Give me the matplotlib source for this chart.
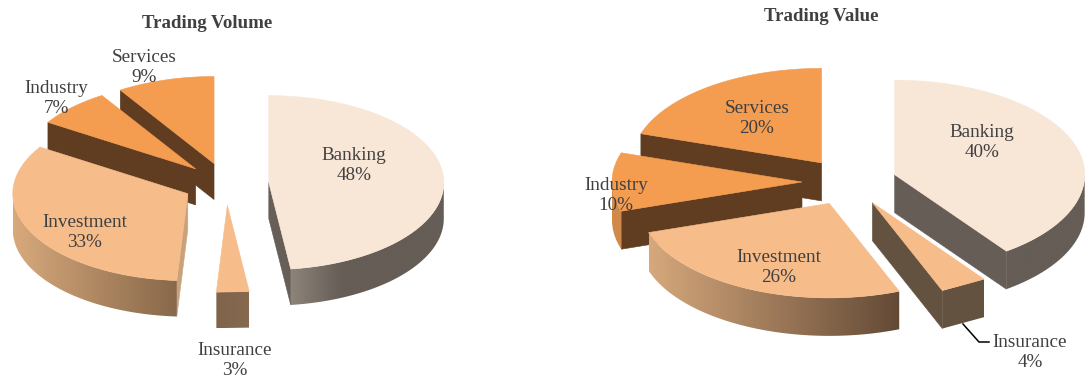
import numpy as np
import matplotlib
matplotlib.use("Agg")
import matplotlib.pyplot as plt
from matplotlib.colors import to_rgb
from matplotlib.patches import Polygon

# Segments run clockwise from twelve o'clock
categories = ["Banking", "Insurance", "Investment", "Industry", "Services"]
volume_share = [48, 3, 33, 7, 9]
value_share = [40, 4, 26, 10, 20]

TOP = {"Banking": "#F8E6D7", "Insurance": "#F6BC8A", "Investment": "#F6BC8A",
       "Industry": "#F49C50", "Services": "#F49C50"}
TEXT = "#404040"
SERIF = "Liberation Serif"

# Colours of the cut faces and evenly spaced colour stops along the rim
volume_style = {
    "cut": {"Banking": "#665E57", "Insurance": "#7F634A", "Investment": "#C9A27C",
            "Industry": "#603D20", "Services": "#603D20"},
    "rim": {"Banking": ("#8C8379", "#655D56", "#655D56", "#655D56"),
            "Insurance": ("#7F634A", "#866A50"),
            "Investment": ("#D8A97C", "#876849"), "Industry": ("#D08A4A", "#D08A4A"),
            "Services": ("#D08A4A", "#D08A4A")},
}
value_style = {
    "cut": {"Banking": "#655D56", "Insurance": "#645240", "Investment": "#8F6E50",
            "Industry": "#603D20", "Services": "#603D20"},
    "rim": {"Banking": ("#655D56", "#655D56"), "Insurance": ("#645240", "#645240"),
            "Investment": ("#D6A87C", "#634A36"), "Industry": ("#D08A4A", "#D08A4A"),
            "Services": ("#D08A4A", "#D08A4A")},
}

# Label centres in pixel coordinates
volume_labels = {"Banking": (354, 165.5), "Insurance": (235, 360.5), "Investment": (85, 232.5),
                 "Industry": (56, 98.5), "Services": (144, 67.5)}
value_labels = {"Banking": (982, 142.5), "Insurance": (1030, 352.5), "Investment": (779, 267.5),
                "Industry": (616, 195.5), "Services": (757, 118.5)}


def rim_point(apex, theta, rx, ry):
    return apex[0] + rx * np.sin(theta), apex[1] - ry * np.cos(theta)


def colour_ramp(stops, size=256):
    rgb = np.array([to_rgb(c) for c in stops])
    grid = np.linspace(0, 1, size)
    pos = np.linspace(0, 1, len(stops))
    return np.stack([np.interp(grid, pos, rgb[:, k]) for k in range(3)], axis=-1)[None, :, :]


def draw_pie(ax, shares, style, centre, rx, ry, depth, explode, labels):
    edges = np.deg2rad(np.concatenate([[0], np.cumsum(shares)]) * 3.6)
    segments = []
    for i, name in enumerate(categories):
        t0, t1 = edges[i], edges[i + 1]
        mid = (t0 + t1) / 2
        apex = (centre[0] + explode * rx * np.sin(mid),
                centre[1] - explode * ry * np.cos(mid))
        segments.append((apex[1], name, t0, t1, apex, shares[i]))

    # Paint from the back of the pie to the front
    z = 2
    for _, name, t0, t1, apex, share in sorted(segments, key=lambda s: s[0]):
        # The narrowest slices have a flat outer edge
        arc = np.linspace(t0, t1, 2 if share < 5 else 160)
        rim_x, rim_y = rim_point(apex, arc, rx, ry)

        # A radial cut shows only when its outward normal faces the viewer
        for theta, normal in ((t0, t0 - np.pi / 2), (t1, t1 + np.pi / 2)):
            if np.cos(normal) < -1e-6:
                px, py = rim_point(apex, theta, rx, ry)
                ax.add_patch(Polygon(
                    [apex, (px, py), (px, py + depth), (apex[0], apex[1] + depth)],
                    closed=True, facecolor=style["cut"][name],
                    edgecolor=style["cut"][name], lw=0.4, zorder=z))
                z += 1

        # Outer wall: the front half of the ellipse, shaded across its width
        front = (arc >= np.pi / 2) & (arc <= 3 * np.pi / 2)
        if front.sum() > 1:
            fx, fy = rim_x[front], rim_y[front]
            outline = np.vstack([np.column_stack([fx, fy]),
                                 np.column_stack([fx[::-1], fy[::-1] + depth])])
            wall = Polygon(outline, closed=True, facecolor="none", edgecolor="none",
                           transform=ax.transData)
            ax.add_patch(wall)
            image = ax.imshow(colour_ramp(style["rim"][name]), aspect="auto",
                              interpolation="bilinear", zorder=z,
                              extent=(fx.min(), fx.max(), fy.max() + depth, fy.min()))
            image.set_clip_path(wall)
            z += 1

        ax.add_patch(Polygon(np.vstack([[apex], np.column_stack([rim_x, rim_y])]),
                             closed=True, facecolor=TOP[name], edgecolor=TOP[name],
                             lw=0.4, zorder=z))
        z += 1

    for name, share in zip(categories, shares):
        x, y = labels[name]
        ax.text(x, y, f"{name}\n{share}%", ha="center", va="center", color=TEXT,
                family=SERIF, fontsize=13.8, linespacing=1.24, zorder=z)


fig = plt.figure(figsize=(10.91, 3.77), dpi=100, facecolor="white")
ax_left = fig.add_axes([0, 0, 545 / 1091, 1])
ax_right = fig.add_axes([545 / 1091, 0, 546 / 1091, 1])

draw_pie(ax_left, volume_share, volume_style, (226, 184), 175, 87, 36, 0.245, volume_labels)
draw_pie(ax_right, value_share, value_style, (849.5, 182), 190, 94.5, 38, 0.25, value_labels)

ax_left.set_xlim(0, 545)
ax_right.set_xlim(545, 1091)
for ax in (ax_left, ax_right):
    ax.set_ylim(377, 0)
    ax.axis("off")

ax_left.text(207.5, 23.5, "Trading Volume", ha="center", va="center", color=TEXT,
             family=SERIF, fontweight="bold", fontsize=13.6)
ax_right.text(821.5, 16.5, "Trading Value", ha="center", va="center", color=TEXT,
              family=SERIF, fontweight="bold", fontsize=13.6)

# Leader line for the small Insurance segment
ax_right.plot([963, 979, 989], [324, 342, 342], color="black", lw=1.1, zorder=50)

fig.savefig("out.png", dpi=100, facecolor="white")
